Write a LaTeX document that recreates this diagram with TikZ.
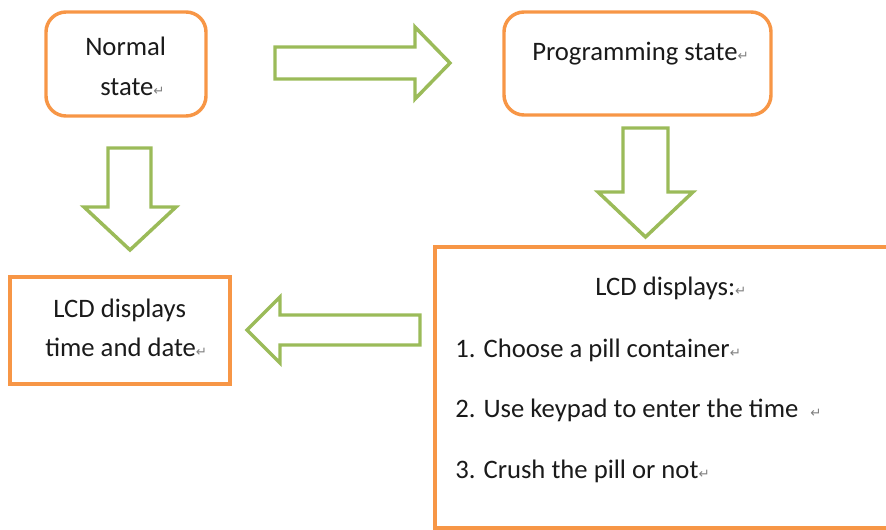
\documentclass[tikz,border=0pt]{standalone}
\usepackage{fontspec}
\setmainfont{Carlito}
\newfontfamily\retfont{DejaVu Sans}
\definecolor{boxorange}{HTML}{F79646}
\definecolor{arrowgreen}{HTML}{9BBB59}
\definecolor{txtcol}{HTML}{1A1A1A}
\newcommand\ret{{\retfont\fontsize{10}{10}\selectfont\textcolor{gray}{↵}}}
\tikzset{
  box/.style={draw=boxorange, line width=2.6pt, inner sep=0pt},
  rbox/.style={box, rounded corners=15pt},
  blockarrow/.style={draw=arrowgreen, line width=2.6pt, fill=white, line join=miter},
  txt/.style={font=\fontsize{20}{24}\selectfont, text=txtcol, inner sep=0pt, anchor=base west}
}
\begin{document}
\begin{tikzpicture}[x=0.75pt,y=-0.75pt]
\useasboundingbox (0,0) rectangle (886,529);
% boxes
\node[rbox, minimum width=120pt, minimum height=78pt] (normal) at (126,64) {};
\node[rbox, minimum width=200.25pt, minimum height=77.25pt] (prog) at (637.5,63.5) {};
\node[box, minimum width=165pt, minimum height=80.25pt] (lcdtime) at (120,330.5) {};
\node[box, minimum width=348.75pt, minimum height=210.75pt] (lcdmenu) at (667.5,387.5) {};
% texts
\node[txt] (t1) at (85,55) {Normal};
\node[txt] (t2) at (100,95) {state\ret};
\node[txt] (t3) at (532,60) {Programming state\ret};
\node[txt] (t4) at (53,317) {LCD displays};
\node[txt] (t5) at (45,356) {time and date\ret};
\node[txt] (t6) at (595,295) {LCD displays:\ret};
\node[txt] (t7) at (455,357) {1. Choose a pill container\ret};
\node[txt] (t8) at (455,417) {2. Use keypad to enter the time\ \ \ret};
\node[txt] (t9) at (455,478) {3. Crush the pill or not\ret};
% block arrows
\draw[blockarrow] (275,47) -- (415,47) -- (415,27) -- (450,63) -- (415,99) -- (415,79) -- (275,79) -- cycle;
\draw[blockarrow] (108,148) -- (151,148) -- (151,207) -- (176,207) -- (130,250) -- (84,207) -- (108,207) -- cycle;
\draw[blockarrow] (623,128) -- (668,128) -- (668,192) -- (693,192) -- (645.5,237) -- (598,192) -- (623,192) -- cycle;
\draw[blockarrow] (420,315) -- (420,345) -- (280,345) -- (280,363) -- (247,330) -- (280,297) -- (280,315) -- cycle;
\end{tikzpicture}
\end{document}
